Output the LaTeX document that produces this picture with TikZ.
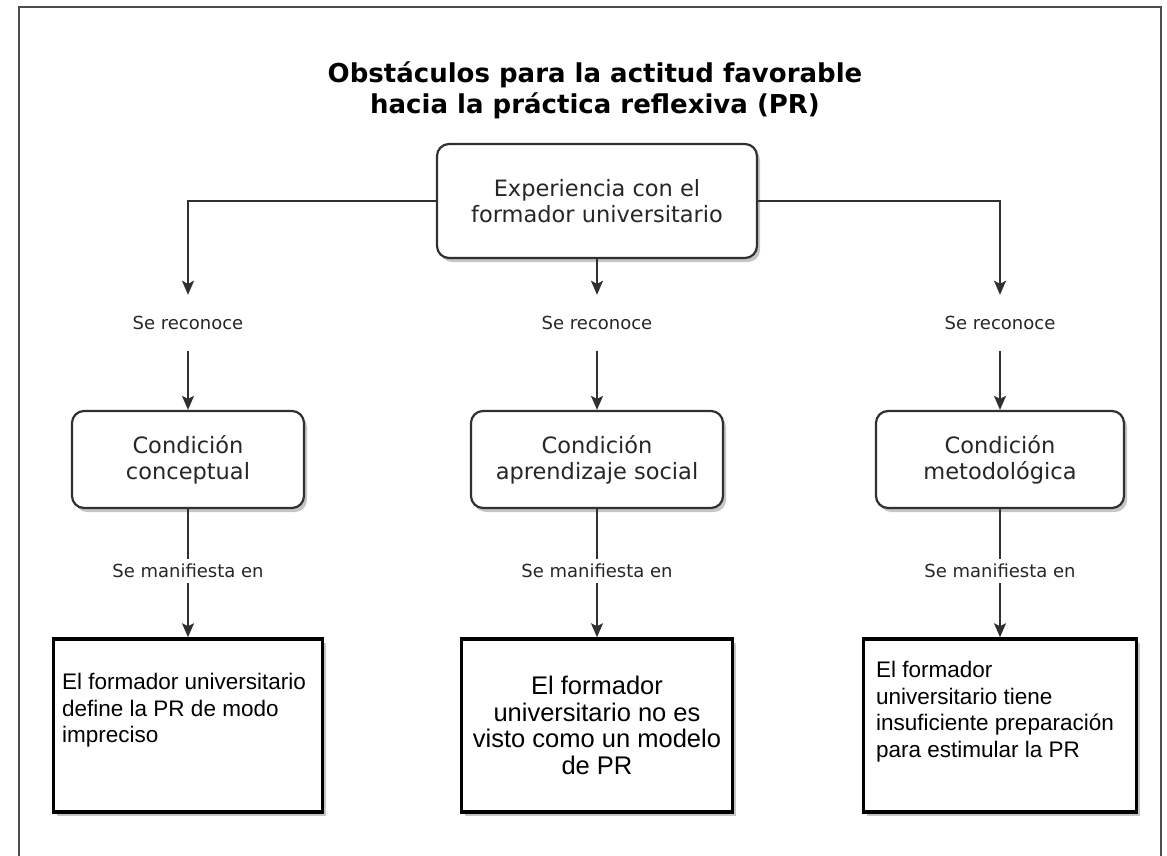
\documentclass[tikz,border=0pt]{standalone}
\usepackage{fontspec}
\setmainfont{DejaVu Sans}
\newfontfamily\arialfont{Liberation Sans}
\usepackage{tikz}
\usetikzlibrary{positioning,shadows,arrows.meta}
\definecolor{textgray}{HTML}{262626}
\definecolor{linegray}{HTML}{303030}
\tikzstyle{my shadow} = [drop shadow={shadow xshift=3pt, shadow yshift=-4pt, fill=black!45, opacity=0.5}]
\tikzstyle{cond box} = [draw=linegray, line width=2.2pt, rounded corners=12pt, fill=white, my shadow, align=center, text=textgray, font=\fontsize{22.5}{26}\selectfont, minimum height=97pt, inner sep=0pt]
\tikzstyle{result box} = [draw=black, line width=3.5pt, fill=white, my shadow, minimum height=173pt, inner sep=0pt]
\tikzstyle{result text} = [anchor=north west, align=left, inner sep=0pt, font=\arialfont\fontsize{22.5}{26.5}\selectfont]
\tikzstyle{link text} = [text=textgray, font=\fontsize{18}{22}\selectfont, inner sep=0pt]
\tikzstyle{my arrow} = [-{Stealth[length=14pt,width=12pt,inset=3pt]}, line width=1.8pt, draw=linegray]
\tikzstyle{my line} = [line width=1.8pt, draw=linegray]
\begin{document}
\begin{tikzpicture}[x=1pt,y=-1pt]
  \useasboundingbox (0,0) rectangle (1167,856);
  % Rahmen
  \draw[line width=1.5pt, black!70] (19,870) -- (19,7) -- (1161,7) -- (1161,870);
  % Titel
  \node[font=\bfseries\fontsize{26}{31}\selectfont, align=center] (title) at (595,90) {Obstáculos para la actitud favorable\\hacia la práctica reflexiva (PR)};
  % Oberer Kasten
  \node[cond box, minimum width=320pt, minimum height=114pt] (exp) at (597,201) {Experiencia con el\\formador universitario};
  % Bedingungen
  \node[cond box, minimum width=232pt] (condc) at (188,459.5) {Condición\\conceptual};
  \node[cond box, minimum width=252pt] (conds) at (597,459.5) {Condición\\aprendizaje social};
  \node[cond box, minimum width=248pt] (condm) at (1000,459.5) {Condición\\metodológica};
  % Ergebnisse
  \node[result box, minimum width=269pt] (resc) at (188,725.5) {};
  \node[result box, minimum width=271pt, align=center, font=\arialfont\fontsize{25.5}{26.6}\selectfont] (ress) at (597,725.5) {El formador\\universitario no es\\visto como un modelo\\de PR};
  \node[result box, minimum width=273pt] (resm) at (1000,725.5) {};
  \node[result text] (txtc) at (62,673) {El formador universitario\\define la PR de modo\\impreciso};
  \node[result text] (txtm) at (876,661) {El formador\\universitario tiene\\insuficiente preparación\\para estimular la PR};
  % Beschriftungen
  \foreach \col/\x in {c/188,s/597,m/1000}{
    \node[link text, minimum height=56pt] (rec\col) at (\x,323) {Se reconoce};
    \node[link text, minimum height=24pt] (man\col) at (\x,571) {Se manifiesta en};
  }
  % Pfeile
  \draw[my arrow] (exp.west) -| (recc.north);
  \draw[my arrow] (exp.south) -- (recs.north);
  \draw[my arrow] (exp.east) -| (recm.north);
  \foreach \col in {c,s,m}{
    \draw[my arrow] (rec\col.south) -- (cond\col.north);
    \draw[my line] (cond\col.south) -- (man\col.north);
    \draw[my arrow] (man\col.south) -- (res\col.north);
  }
\end{tikzpicture}
\end{document}
